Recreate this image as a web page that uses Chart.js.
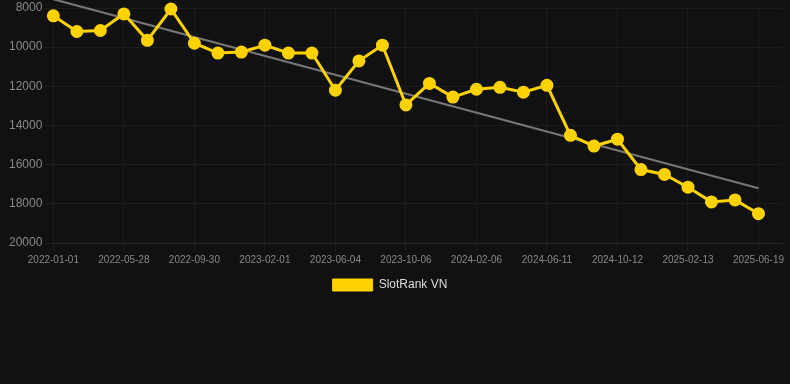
<!DOCTYPE html>
<html>
<head>
<meta charset="utf-8">
<script src="https://cdn.jsdelivr.net/npm/chart.js@4/dist/chart.umd.min.js"></script>
<style>
  html, body { margin: 0; padding: 0; background: #111111; }
  #wrap { width: 790px; height: 301px; }
</style>
</head>
<body>
<div id="wrap"><canvas id="rankChart" width="790" height="301"></canvas></div>
<script>
// dates on the x axis (one extra empty slot at the end, like the original)
const dates = [
  '2022-01-01', '2022-02-19', '2022-04-09', '2022-05-28', '2022-07-09', '2022-08-19',
  '2022-09-30', '2022-11-10', '2022-12-22', '2023-02-01', '2023-03-13', '2023-04-24',
  '2023-06-04', '2023-07-15', '2023-08-26', '2023-10-06', '2023-11-16', '2023-12-27',
  '2024-02-06', '2024-03-18', '2024-04-30', '2024-06-11', '2024-07-22', '2024-09-01',
  '2024-10-12', '2024-11-23', '2025-01-03', '2025-02-13', '2025-03-27', '2025-05-08',
  '2025-06-19', '2025-07-31'
];

// rank values
const rankVN = [
  8400, 9200, 9150, 8300, 9650, 8050, 9800, 10300, 10250, 9900, 10300,
  10300, 12200, 10700, 9900, 12950, 11850, 12550, 12150, 12050, 12300,
  11950, 14500, 15050, 14700, 16250, 16500, 17150, 17900, 17800, 18500
];

// trend line: only its two ends
const trendStart = 7550;
const trendEnd = 17200;
const trend = rankVN.map((v, i) => i === 0 ? trendStart : (i === rankVN.length - 1 ? trendEnd : null));

const yTicks = [8000, 10000, 12000, 14000, 16000, 18000, 20000];
const labelEvery = 3;

Chart.defaults.font.family = '"Liberation Sans", Arial, sans-serif';

const gridColor = '#1d1d1d';

// nudge the legend a little to the left, like the original
const legendNudge = {
  id: 'legendNudge',
  afterLayout(chart) {
    if (chart.legend) {
      chart.legend.left -= 8;
      chart.legend.right -= 8;
    }
  }
};

const ctx = document.getElementById('rankChart').getContext('2d');
new Chart(ctx, {
  type: 'line',
  data: {
    labels: dates,
    datasets: [
      {
        label: 'SlotRank VN',
        data: rankVN,
        borderColor: '#FFD200',
        backgroundColor: '#FFD200',
        borderWidth: 3,
        pointRadius: 5,
        pointBackgroundColor: '#FFD200',
        pointBorderColor: '#FFD200',
        tension: 0,
        clip: false,
        order: 1
      },
      {
        label: 'trend',
        data: trend,
        borderColor: '#777777',
        borderWidth: 2,
        pointRadius: 0,
        spanGaps: true,
        clip: false,
        order: 2
      }
    ]
  },
  options: {
    responsive: false,
    animation: false,
    layout: { padding: { left: 6, top: 0, right: 0, bottom: 0 } },
    scales: {
      x: {
        afterFit: axis => { axis.paddingRight = 0; },
        grid: {
          tickLength: 8,
          color: c => (c.index % labelEvery === 0 ? gridColor : 'rgba(0,0,0,0)')
        },
        border: { color: '#2a2a2a' },
        ticks: {
          color: '#888',
          font: { size: 10 },
          autoSkip: false,
          maxRotation: 0,
          callback: function(val, i) {
            return i % labelEvery === 0 ? this.getLabelForValue(val) : '';
          }
        }
      },
      y: {
        reverse: true,
        min: yTicks[0],
        max: yTicks[yTicks.length - 1],
        grid: { color: gridColor, tickLength: 8 },
        border: { color: gridColor },
        afterBuildTicks: axis => { axis.ticks = yTicks.map(v => ({ value: v })); },
        ticks: { color: '#8a8a8a', font: { size: 12, lineHeight: 0.7 }, callback: v => String(v) }
      }
    },
    plugins: {
      legend: {
        position: 'bottom',
        labels: {
          color: '#dddddd',
          font: { size: 12 },
          boxWidth: 40,
          filter: item => item.text !== 'trend',
          generateLabels: chart => Chart.defaults.plugins.legend.labels.generateLabels(chart)
            .map(item => Object.assign(item, { lineWidth: 1 }))
        }
      },
      tooltip: { enabled: false }
    }
  },
  plugins: [legendNudge]
});
</script>
</body>
</html>
